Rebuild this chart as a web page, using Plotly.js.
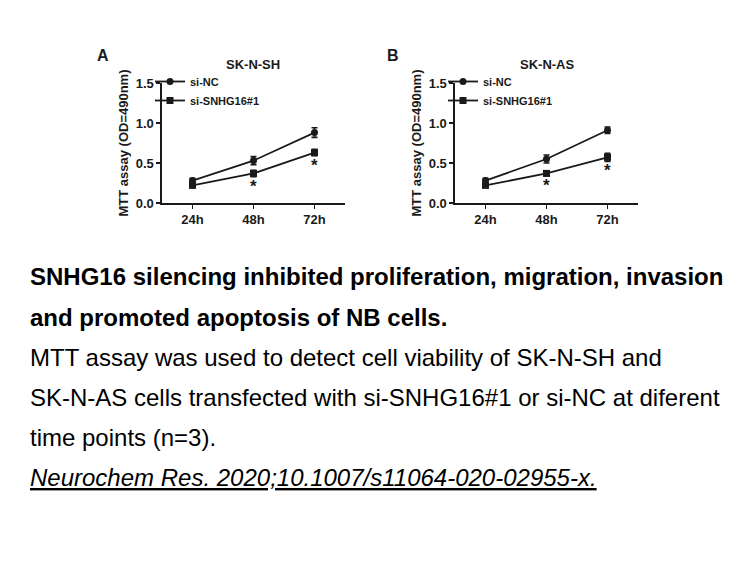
<!DOCTYPE html>
<html>
<head>
<meta charset="utf-8">
<script src="https://cdn.plot.ly/plotly-3.0.1.min.js"></script>
<style>html,body{margin:0;padding:0;background:#fff;}#chart{width:756px;height:567px;}</style>
</head>
<body>
<div id="chart"></div>
<script>
// ---- data ----
const timePoints = ["24h", "48h", "72h"];
const seriesNames = ["si-NC", "si-SNHG16#1"];

const shNC = [0.28, 0.53, 0.88];
const shNCErr = [0.03, 0.05, 0.06];
const shSi = [0.22, 0.37, 0.63];
const shSiErr = [0.02, 0.04, 0.04];

const asNC = [0.28, 0.55, 0.91];
const asNCErr = [0.03, 0.05, 0.04];
const asSi = [0.22, 0.37, 0.57];
const asSiErr = [0.02, 0.03, 0.05];

const significant = [false, true, true]; // asterisks under si-SNHG16#1

const panelTitles = ["SK-N-SH", "SK-N-AS"];
const panelLetters = ["A", "B"];
const yTitle = "MTT assay (OD=490nm)";
const yTicks = [0, 0.5, 1.0, 1.5];

const captionBold = [
  "SNHG16 silencing inhibited proliferation, migration, invasion",
  "and promoted apoptosis of NB cells."
];
const captionText = [
  "MTT assay was used to detect cell viability of SK-N-SH and",
  "SK-N-AS cells transfected with si-SNHG16#1 or si-NC at diferent",
  "time points (n=3)."
];
const citation = "Neurochem Res. 2020;10.1007/s11064-020-02955-x.";

// ---- layout helpers ----
const W = 756, H = 567;
const px = x => x / W;
const py = y => 1 - y / H;
const FONT = "Liberation Sans, Arial, sans-serif";
const INK = "#1a1a1a";

function series(xa, ya, y, err, name, symbol, legend) {
  return {
    type: "scatter", mode: "lines+markers",
    x: timePoints, y: y, name: name,
    xaxis: xa, yaxis: ya, legend: legend,
    line: {color: INK, width: 1.8},
    marker: {symbol: symbol, size: 7, color: INK},
    error_y: {type: "data", array: err, visible: true, color: INK, thickness: 1.6, width: 3}
  };
}

const data = [
  series("x", "y", shNC, shNCErr, seriesNames[0], "circle", "legend"),
  series("x", "y", shSi, shSiErr, seriesNames[1], "square", "legend"),
  series("x2", "y2", asNC, asNCErr, seriesNames[0], "circle", "legend2"),
  series("x2", "y2", asSi, asSiErr, seriesNames[1], "square", "legend2")
];

function xAxis(domain, anchor) {
  return {
    domain: domain, anchor: anchor, type: "category",
    range: [-0.5, 2.5], showgrid: false, zeroline: false,
    showline: true, linecolor: INK, linewidth: 1.6,
    ticks: "outside", ticklen: 4, tickwidth: 1.6, tickcolor: INK,
    tickfont: {family: FONT, size: 13, color: INK, weight: "bold"},
    fixedrange: true
  };
}
function yAxis(anchor) {
  return {
    domain: [py(203), py(83)], anchor: anchor,
    range: [0, 1.5], tickvals: yTicks, tickformat: ".1f",
    showgrid: false, zeroline: false,
    showline: true, linecolor: INK, linewidth: 1.6,
    ticks: "outside", ticklen: 4, tickwidth: 1.6, tickcolor: INK,
    tickfont: {family: FONT, size: 13, color: INK, weight: "bold"},
    title: {text: yTitle, font: {family: FONT, size: 13, color: INK, weight: "bold"}, standoff: 4},
    fixedrange: true
  };
}

const annotations = [];
const panels = [
  {xa: "x", ya: "y", dom: [px(162), px(345)], si: shSi, err: shSiErr, letterX: 103},
  {xa: "x2", ya: "y2", dom: [px(455), px(638)], si: asSi, err: asSiErr, letterX: 393}
];
panels.forEach((p, i) => {
  annotations.push({
    xref: "paper", yref: "paper", x: (p.dom[0] + p.dom[1]) / 2, y: py(65),
    text: "<b>" + panelTitles[i] + "</b>", showarrow: false,
    font: {family: FONT, size: 13, color: INK}, xanchor: "center", yanchor: "middle"
  });
  annotations.push({
    xref: "paper", yref: "paper", x: px(p.letterX), y: py(55),
    text: "<b>" + panelLetters[i] + "</b>", showarrow: false,
    font: {family: FONT, size: 16, color: INK}, xanchor: "center", yanchor: "middle"
  });
  timePoints.forEach((t, j) => {
    if (significant[j]) {
      annotations.push({
        xref: p.xa, yref: p.ya, x: t, y: p.si[j] - p.err[j],
        text: "<b>*</b>", showarrow: false, yanchor: "top", yshift: 2,
        font: {family: FONT, size: 17, color: INK}
      });
    }
  });
});

const capLines = [
  ...captionBold.map(s => "<b>" + s + "</b>"),
  ...captionText,
  "<i><u>" + citation + "</u></i>"
];
capLines.forEach((s, k) => {
  annotations.push({
    xref: "paper", yref: "paper", x: px(28), y: py(277 + 40 * k),
    text: s, showarrow: false, xanchor: "left", yanchor: "middle",
    font: {family: FONT, size: 24, color: "#000"}
  });
});

const legendBase = {
  xanchor: "left", yanchor: "top", bgcolor: "rgba(0,0,0,0)",
  font: {family: FONT, size: 11, color: INK, weight: "bold"},
  tracegroupgap: 0, itemclick: false, itemdoubleclick: false
};

const layout = {
  width: W, height: H,
  margin: {l: 0, r: 0, t: 0, b: 0},
  paper_bgcolor: "#fff", plot_bgcolor: "#fff",
  showlegend: true,
  xaxis: xAxis(panels[0].dom, "y"),
  yaxis: yAxis("x"),
  xaxis2: xAxis(panels[1].dom, "y2"),
  yaxis2: yAxis("x2"),
  legend: Object.assign({x: px(150), y: py(67)}, legendBase),
  legend2: Object.assign({x: px(443), y: py(67)}, legendBase),
  annotations: annotations,
  font: {family: FONT, color: INK}
};

Plotly.newPlot("chart", data, layout, {displayModeBar: false, staticPlot: true});
</script>
</body>
</html>
